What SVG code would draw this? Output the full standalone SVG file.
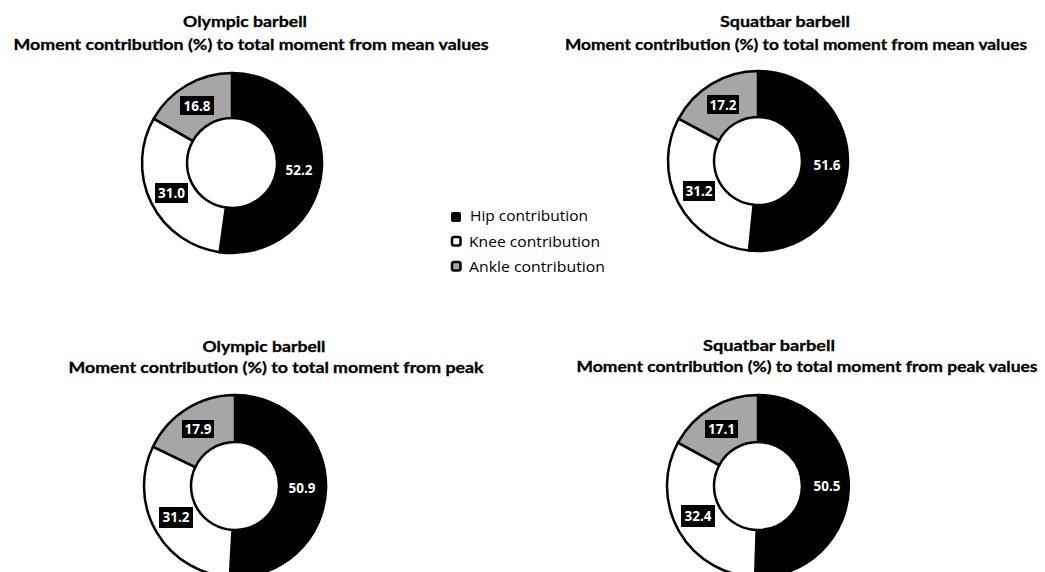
<svg xmlns="http://www.w3.org/2000/svg" width="1045" height="572" viewBox="0 0 1045 572">
<style>
.title{font-family:Lato,"Open Sans","Liberation Sans",sans-serif;font-weight:bold;font-size:16px;fill:#000;text-anchor:middle;stroke:#000;stroke-width:0.3}
.seg{stroke:#000;stroke-width:2.5;stroke-linejoin:round}
.hip{fill:#000}
.knee{fill:#fff}
.ankle{fill:#a6a6a6}
.lblbox{fill:#000}
.lbl{font-family:"Open Sans",Lato,"Liberation Sans",sans-serif;font-weight:bold;font-size:13.5px;fill:#fff;text-anchor:middle}
.leg{font-family:"Open Sans",Lato,"Liberation Sans",sans-serif;font-size:15px;fill:#000}
.mk{stroke:#000;stroke-width:2.5}
</style>
<rect width="1045" height="572" fill="#fff"/>

<g id="chart-olympic-mean">
<text class="title" x="245" y="27" textLength="124" lengthAdjust="spacingAndGlyphs">Olympic barbell</text>
<text class="title" x="251" y="50" textLength="475" lengthAdjust="spacingAndGlyphs">Moment contribution (%) to total moment from mean values</text>
<path class="seg hip" d="M232,73 A90,90 0 1 1 219.60,252.14 L225.80,207.57 A45,45 0 1 0 232,118 Z"/>
<path class="seg knee" d="M219.60,252.14 A90,90 0 0 1 153.69,118.66 L192.85,140.83 A45,45 0 0 0 225.80,207.57 Z"/>
<path class="seg ankle" d="M153.69,118.66 A90,90 0 0 1 232,73 L232,118 A45,45 0 0 0 192.85,140.83 Z"/>
<rect class="lblbox" x="180" y="96" width="34" height="19"/>
<text class="lbl" x="197" y="111" textLength="27" lengthAdjust="spacingAndGlyphs">16.8</text>
<rect class="lblbox" x="155" y="183" width="33" height="20"/>
<text class="lbl" x="171.5" y="198" textLength="27" lengthAdjust="spacingAndGlyphs">31.0</text>
<text class="lbl" x="299" y="175" textLength="27" lengthAdjust="spacingAndGlyphs">52.2</text>
</g>

<g id="chart-squatbar-mean">
<text class="title" x="785" y="27" textLength="130" lengthAdjust="spacingAndGlyphs">Squatbar barbell</text>
<text class="title" x="796" y="50" textLength="462" lengthAdjust="spacingAndGlyphs">Moment contribution (%) to total moment from mean values</text>
<path class="seg hip" d="M758,71 A90,90 0 1 1 748.97,250.55 L753.58,204.78 A44,44 0 1 0 758,117 Z"/>
<path class="seg knee" d="M748.97,250.55 A90,90 0 0 1 678.59,118.64 L719.18,140.29 A44,44 0 0 0 753.58,204.78 Z"/>
<path class="seg ankle" d="M678.59,118.64 A90,90 0 0 1 758,71 L758,117 A44,44 0 0 0 719.18,140.29 Z"/>
<rect class="lblbox" x="707" y="95" width="32" height="19"/>
<text class="lbl" x="723" y="110" textLength="27" lengthAdjust="spacingAndGlyphs">17.2</text>
<rect class="lblbox" x="683" y="181" width="32" height="20"/>
<text class="lbl" x="699" y="196" textLength="27" lengthAdjust="spacingAndGlyphs">31.2</text>
<text class="lbl" x="827" y="170" textLength="27" lengthAdjust="spacingAndGlyphs">51.6</text>
</g>

<g id="legend">
<rect class="hip" x="451" y="212" width="10" height="10" rx="2"/>
<text class="leg" x="470" y="221" textLength="118" lengthAdjust="spacingAndGlyphs">Hip contribution</text>
<rect class="mk knee" x="452" y="237" width="8.5" height="8.5" rx="2"/>
<text class="leg" x="469" y="247" textLength="131" lengthAdjust="spacingAndGlyphs">Knee contribution</text>
<rect class="mk ankle" x="452" y="262" width="8.5" height="8.5" rx="2"/>
<text class="leg" x="469" y="272" textLength="136" lengthAdjust="spacingAndGlyphs">Ankle contribution</text>
</g>

<g id="chart-olympic-peak">
<text class="title" x="264" y="352" textLength="123" lengthAdjust="spacingAndGlyphs">Olympic barbell</text>
<text class="title" x="276" y="373" textLength="415" lengthAdjust="spacingAndGlyphs">Moment contribution (%) to total moment from peak</text>
<path class="seg hip" d="M235,395 A91,91 0 1 1 229.86,576.85 L232.51,529.93 A44,44 0 1 0 235,442 Z"/>
<path class="seg knee" d="M229.86,576.85 A91,91 0 0 1 152.91,446.74 L195.31,467.02 A44,44 0 0 0 232.51,529.93 Z"/>
<path class="seg ankle" d="M152.91,446.74 A91,91 0 0 1 235,395 L235,442 A44,44 0 0 0 195.31,467.02 Z"/>
<rect class="lblbox" x="182" y="420" width="32" height="18"/>
<text class="lbl" x="198" y="434" textLength="27" lengthAdjust="spacingAndGlyphs">17.9</text>
<rect class="lblbox" x="159" y="507" width="34" height="21"/>
<text class="lbl" x="176" y="522" textLength="27" lengthAdjust="spacingAndGlyphs">31.2</text>
<text class="lbl" x="302" y="493" textLength="27" lengthAdjust="spacingAndGlyphs">50.9</text>
</g>

<g id="chart-squatbar-peak">
<text class="title" x="769" y="351" textLength="132" lengthAdjust="spacingAndGlyphs">Squatbar barbell</text>
<text class="title" x="807" y="372" textLength="461" lengthAdjust="spacingAndGlyphs">Moment contribution (%) to total moment from peak values</text>
<path class="seg hip" d="M758,395 A91,91 0 1 1 755.14,576.96 L756.62,529.98 A44,44 0 1 0 758,442 Z"/>
<path class="seg knee" d="M755.14,576.96 A91,91 0 0 1 677.98,442.66 L719.31,465.04 A44,44 0 0 0 756.62,529.98 Z"/>
<path class="seg ankle" d="M677.98,442.66 A91,91 0 0 1 758,395 L758,442 A44,44 0 0 0 719.31,465.04 Z"/>
<rect class="lblbox" x="705" y="420" width="33" height="18"/>
<text class="lbl" x="721.5" y="434" textLength="27" lengthAdjust="spacingAndGlyphs">17.1</text>
<rect class="lblbox" x="681" y="505" width="34" height="22"/>
<text class="lbl" x="698" y="521" textLength="27" lengthAdjust="spacingAndGlyphs">32.4</text>
<text class="lbl" x="827" y="491" textLength="27" lengthAdjust="spacingAndGlyphs">50.5</text>
</g>
</svg>
